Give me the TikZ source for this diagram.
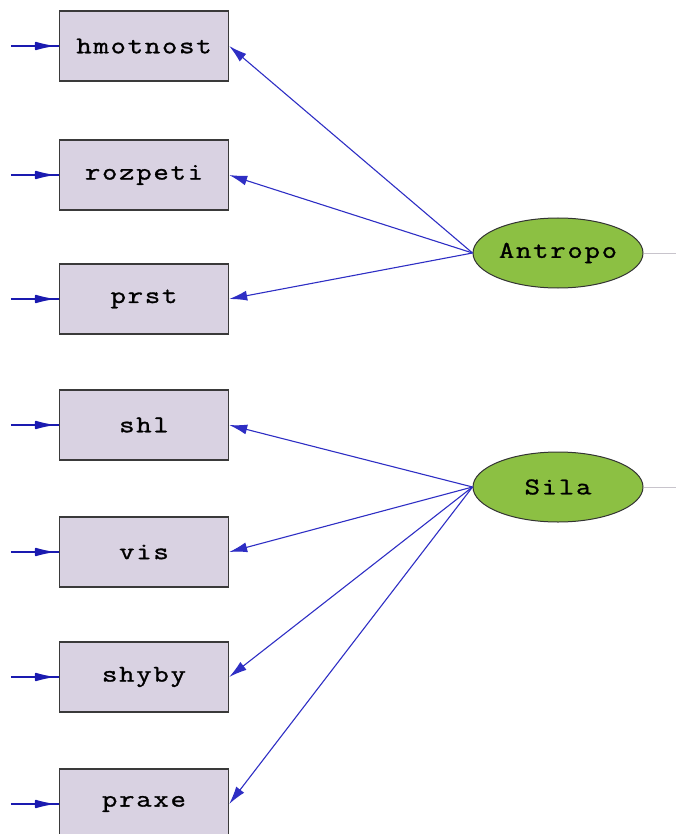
\documentclass[tikz,border=0pt]{standalone}
\usepackage{fontspec}
\setmonofont[LetterSpace=7,FakeBold=1.2,FakeStretch=1.25]{Latin Modern Mono}
\usetikzlibrary{arrows.meta,decorations.markings,shapes.geometric}
\definecolor{boxfill}{HTML}{D9D2E2}
\definecolor{boxline}{HTML}{3A3A3A}
\definecolor{latfill}{HTML}{8CC043}
\definecolor{pathblue}{HTML}{2E2EC4}
\definecolor{errblue}{HTML}{1A1AB0}
\definecolor{tailgrey}{HTML}{C8C4CC}
\begin{document}
\begin{tikzpicture}[x=1pt,y=-1pt,
  obs/.style={draw=boxline,line width=1.4pt,fill=boxfill,minimum width=169pt,minimum height=70pt,inner sep=0pt,font=\ttfamily\fontsize{24}{24}\selectfont},
  lat/.style={ellipse,draw=black!80,line width=1pt,fill=latfill,minimum width=170pt,minimum height=70pt,inner sep=0pt,font=\ttfamily\fontsize{24}{24}\selectfont},
  load/.style={draw=pathblue,line width=1.1pt,-{Latex[length=18pt,width=10pt]}},
  err/.style={draw=errblue,line width=1.6pt,postaction={decorate},
    decoration={markings,mark=at position 0.84 with {\arrow{Latex[length=21pt,width=9pt,round]}}}},
  tail/.style={draw=tailgrey,line width=0.8pt}]
\useasboundingbox (0,0) rectangle (676,834);
% observed variables
\node[obs] (hm) at (144,46) {hmotnost};
\node[obs] (ro) at (144,175) {rozpeti};
\node[obs] (pr) at (144,299) {prst};
\node[obs] (sh) at (144,425) {shl};
\node[obs] (vi) at (144,552) {vis};
\node[obs] (sy) at (144,677) {shyby};
\node[obs] (px) at (144,804) {praxe};
% latent variables
\node[lat] (an) at (558,253) {Antropo};
\node[lat] (si) at (558,487) {Sila};
% error terms
\foreach \v in {hm,ro,pr,sh,vi,sy,px}{
  \coordinate (e\v) at ([xshift=-48pt]\v.west);
  \draw[err] (e\v) -- (\v.west);
}
% loadings
\foreach \v in {hm,ro,pr}{\draw[load] (an.west) -- (\v.east);}
\foreach \v in {sh,vi,sy,px}{\draw[load] (si.west) -- (\v.east);}
% covariance stubs
\coordinate (ta) at (676,253);
\coordinate (ts) at (676,487);
\draw[tail] (an.east) -- (ta);
\draw[tail] (si.east) -- (ts);
\end{tikzpicture}
\end{document}
